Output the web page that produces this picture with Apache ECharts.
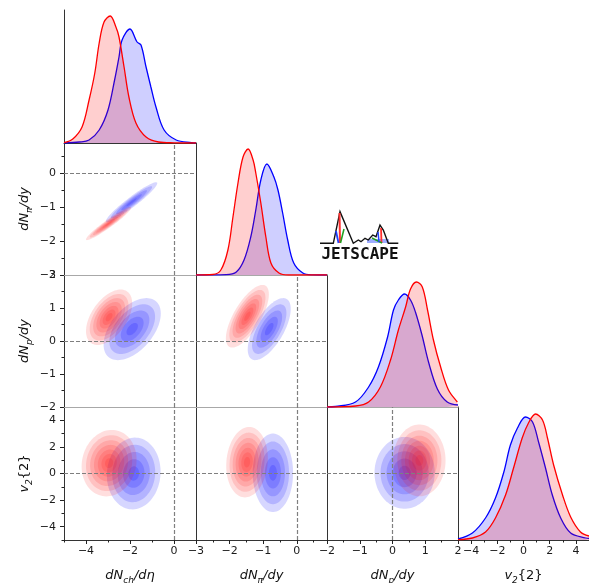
<!DOCTYPE html>
<html><head><meta charset="utf-8">
<script src="https://cdn.jsdelivr.net/npm/echarts@6/dist/echarts.min.js"></script>
<style>html,body{margin:0;padding:0;background:#fff}#c{width:589px;height:583px}</style>
</head><body><div id="c"></div>
<script>
// ---- Marginal (diagonal) KDE curves: [value, density (arbitrary units)] ----
const diagChRed  = [[-5,0.3],[-4.6,4],[-4.18,16],[-3.86,43],[-3.6,70],[-3.4,100],[-3.18,121],[-2.9,127],[-2.64,116],[-2.5,106],[-2.27,76],[-2.05,46],[-1.73,20],[-1.27,6],[-0.7,1],[0,0.2],[1,0]];
const diagChBlue = [[-5,0],[-4.3,1],[-3.86,3],[-3.4,13],[-3.0,33],[-2.7,63],[-2.5,86],[-2.36,103],[-2.0,114],[-1.68,101],[-1.5,98],[-1.27,76],[-1.05,56],[-0.82,36],[-0.45,13],[0.1,3],[0.8,0.3],[1,0]];
const diagPiRed  = [[-3,0],[-2.5,0.5],[-2.26,5],[-2.05,25],[-1.9,58],[-1.75,92],[-1.6,118],[-1.45,126],[-1.3,115],[-1.22,102],[-1.07,72],[-0.92,38],[-0.77,12],[-0.53,2],[-0.25,0],[0.9,0]];
const diagPiBlue = [[-3,0],[-2.1,0.3],[-1.8,3],[-1.57,15],[-1.37,38],[-1.22,65],[-1.07,95],[-0.89,111],[-0.68,98],[-0.56,85],[-0.42,62],[-0.27,35],[-0.09,12],[0.18,2],[0.45,0.2],[0.9,0]];
const diagPRed   = [[-2,0],[-1.13,1],[-0.73,5],[-0.37,20],[-0.06,47],[0.18,77],[0.4,100],[0.55,118],[0.73,125],[0.91,120],[1.07,97],[1.25,67],[1.47,40],[1.71,17],[1.98,5],[2,4.8]];
const diagPBlue  = [[-2,0],[-1.74,0.5],[-1.13,5],[-0.73,20],[-0.43,40],[-0.15,70],[0.03,97],[0.18,107],[0.37,113],[0.55,107],[0.7,95],[0.9,72],[1.1,45],[1.37,18],[1.67,5],[2,2]];
const diagV2Red  = [[-5,0.3],[-3.9,2],[-2.9,8],[-2.14,22],[-1.37,45],[-0.76,72],[-0.1,102],[0.38,117],[0.92,126],[1.45,120],[1.83,102],[2.3,75],[2.98,45],[3.6,23],[4.35,8],[5,4]];
const diagV2Blue = [[-5,1],[-3.9,7],[-2.9,22],[-2.14,42],[-1.5,68],[-1.0,95],[-0.46,112],[0.15,123],[0.69,118],[1.15,98],[1.68,72],[2.2,45],[2.84,22],[3.6,7],[4.75,2],[5,1.5]];

// ---- 2D contour shapes: [centerX, centerY, halfExtentX, halfExtentY, correlation] ----
const piChRed  = [-2.97,-1.48,1.03,0.49,0.956];
const piChBlue = [-1.93,-0.85,1.17,0.59,0.95];
const pChRed   = [-2.95,0.72,1.05,0.84,0.5];
const pChBlue  = [-1.9,0.36,1.3,0.94,0.5];
const v2ChRed  = [-2.95,0.78,1.25,2.5,0.1];
const v2ChBlue = [-1.83,0.0,1.22,2.7,0.05];
const pPiRed   = [-1.47,0.75,0.64,0.95,0.7];
const pPiBlue  = [-0.82,0.36,0.64,0.94,0.65];
const v2PiRed  = [-1.48,0.85,0.62,2.65,0.1];
const v2PiBlue = [-0.71,0.05,0.6,2.95,0.0];
const v2PRed   = [0.82,0.98,0.8,2.7,0.0];
const v2PBlue  = [0.37,0.05,0.92,2.7,0.0];
const levelsRed  = [1,0.84,0.69,0.55,0.41,0.28,0.15];
const levelsBlue = [1,0.8,0.6,0.4,0.2];

// ---- Axes: ranges and tick values ----
const ranges = [[-5,1],[-3,0.9],[-2,2],[-5,5]];
const majorTicks = [[-4,-2,0],[-3,-2,-1,0],[-2,-1,0,1,2],[-4,-2,0,2,4]];
const minorTicks = [[-5,-3,-1,1],[-2.5,-1.5,-0.5,0.5],[-1.5,-0.5,0.5,1.5],[-5,-3,-1,1,3,5]];
const axisNames = ['{m|dN}{s|ch}{m|/dη}','{m|dN}{s|π}{m|/dy}','{m|dN}{s|p}{m|/dy}','{m|v}{s|2}{2}'];

const diagRed  = [diagChRed, diagPiRed, diagPRed, diagV2Red];
const diagBlue = [diagChBlue, diagPiBlue, diagPBlue, diagV2Blue];
const offDiag = {'1,0':[piChRed,piChBlue],'2,0':[pChRed,pChBlue],'3,0':[v2ChRed,v2ChBlue],
                 '2,1':[pPiRed,pPiBlue],'3,1':[v2PiRed,v2PiBlue],'3,2':[v2PRed,v2PBlue]};

// layout
const colL=[64,196,327,458], colW=[132,131,131,131], rowT=[10,143,275,407], rowH=[133,132,132,133];

const FONT='DejaVu Sans';
const rich = {
  m:{fontFamily:FONT,fontStyle:'italic',fontSize:13,color:'#111',lineHeight:18,verticalAlign:'middle'},
  s:{fontFamily:FONT,fontStyle:'italic',fontSize:9,color:'#111',lineHeight:18,verticalAlign:'bottom'}
};
const fmt = v => String(v).replace('-','\u2212');

const grids=[], xAxes=[], yAxes=[], series=[];
const RED='#ff0000', BLUE='#0000ff';

function ellipseRender(color){
  return function(params, api){
    const cx=api.value(0), cy=api.value(1), ax=api.value(2), ay=api.value(3), rho=api.value(4);
    const q=Math.sqrt(Math.max(0,1-rho*rho));
    const pts=[];
    for(let k=0;k<90;k++){
      const t=2*Math.PI*k/90;
      pts.push(api.coord([cx+ax*Math.cos(t), cy+ay*(rho*Math.cos(t)+q*Math.sin(t))]));
    }
    return {type:'polygon', shape:{points:pts}, style:{fill:color}};
  };
}

for(let r=0;r<4;r++){
  for(let c=0;c<=r;c++){
    const g=grids.length;
    grids.push({left:colL[c], top:rowT[r], width:colW[c], height:rowH[r], show:false,
      containLabel:false, outerBoundsMode:'none'});
    const bottomColor = (r===1||r===2) ? '#a8a8a8' : '#333';
    const xi=xAxes.length;
    xAxes.push({gridIndex:g, type:'value', min:ranges[c][0], max:ranges[c][1], position:'bottom',
      axisLine:{show:true, onZero:false, lineStyle:{color:bottomColor, width:1}},
      splitLine:{show:false},
      axisTick:{show:r===3, customValues:majorTicks[c], length:4, lineStyle:{color:'#222'}},
      axisLabel:{show:r===3, customValues:majorTicks[c], formatter:fmt, margin:6,
        fontFamily:FONT, fontSize:11, color:'#1a1a1a'},
      name: r===3 ? axisNames[c] : '', nameLocation:'middle', nameGap:27,
      nameTextStyle:{fontFamily:FONT, fontSize:13, color:'#111', rich:rich}
    });
    if(r===3){
      xAxes.push({gridIndex:g, type:'value', min:ranges[c][0], max:ranges[c][1], position:'bottom',
        axisLine:{show:false, onZero:false}, splitLine:{show:false},
        axisTick:{show:true, customValues:minorTicks[c], length:2.5, lineStyle:{color:'#222'}},
        axisLabel:{show:false}});
    }
    const yi=yAxes.length;
    if(r===c){
      yAxes.push({gridIndex:g, type:'value', min:0, max:rowH[r], position:'left',
        axisLine:{show:true, onZero:false, lineStyle:{color:'#333', width:1}},
        splitLine:{show:false}, axisTick:{show:false}, axisLabel:{show:false}});
      series.push({type:'line', xAxisIndex:xi, yAxisIndex:yi, data:diagBlue[c], smooth:0.35,
        showSymbol:false, symbol:'none', lineStyle:{color:BLUE, width:1.3},
        areaStyle:{color:'rgba(0,0,255,0.27)'}, z:2, silent:true});
      series.push({type:'line', xAxisIndex:xi, yAxisIndex:yi, data:diagRed[c], smooth:0.35,
        showSymbol:false, symbol:'none', lineStyle:{color:RED, width:1.3},
        areaStyle:{color:'rgba(255,0,0,0.27)'}, z:3, silent:true});
    } else {
      yAxes.push({gridIndex:g, type:'value', min:ranges[r][0], max:ranges[r][1], position:'left',
        axisLine:{show:true, onZero:false, lineStyle:{color:'#333', width:1}},
        splitLine:{show:false},
        axisTick:{show:c===0, customValues:majorTicks[r], length:4, lineStyle:{color:'#222'}},
        axisLabel:{show:c===0, customValues:majorTicks[r], formatter:fmt, margin:8,
          fontFamily:FONT, fontSize:11, color:'#1a1a1a'},
        name: c===0 ? axisNames[r] : '', nameLocation:'middle', nameGap:30,
        nameTextStyle:{fontFamily:FONT, fontSize:13, color:'#111', rich:rich}
      });
      if(c===0){
        yAxes.push({gridIndex:g, type:'value', min:ranges[r][0], max:ranges[r][1], position:'left',
          axisLine:{show:false, onZero:false}, splitLine:{show:false},
          axisTick:{show:true, customValues:minorTicks[r], length:2.5, lineStyle:{color:'#222'}},
          axisLabel:{show:false}});
      }
      const [red, blue] = offDiag[r+','+c];
      series.push({type:'custom', xAxisIndex:xi, yAxisIndex:yi, clip:true, silent:true, z:2,
        renderItem:ellipseRender('rgba(0,0,255,0.16)'), encode:{x:0,y:1},
        data:levelsBlue.map(s=>[blue[0],blue[1],blue[2]*s,blue[3]*s,blue[4]])});
      series.push({type:'custom', xAxisIndex:xi, yAxisIndex:yi, clip:true, silent:true, z:3,
        renderItem:ellipseRender('rgba(255,0,0,0.13)'), encode:{x:0,y:1},
        data:levelsRed.map(s=>[red[0],red[1],red[2]*s,red[3]*s,red[4]])});
      series.push({type:'line', xAxisIndex:xi, yAxisIndex:yi, data:[[0,0]], showSymbol:false,
        symbol:'none', lineStyle:{opacity:0}, z:5, silent:true,
        markLine:{silent:true, symbol:['none','none'], animation:false, label:{show:false},
          lineStyle:{color:'#7f7f7f', type:[4,2], width:1.2},
          data:[{xAxis:0},{yAxis:0}]}});
    }
  }
}

// JETSCAPE logo (decoration)
const logo = [
  {type:'polyline', shape:{points:[[320,243.3],[333.3,243.3],[340,211.7],[353.3,243.3],[358.3,240],[361,241.7],[365,238.3],[368.3,240],[372.7,235],[376,236.7],[380,225],[383.3,230],[388.3,243.3],[398.3,243.3]]},
    style:{stroke:'#111', lineWidth:1.4, fill:null}, z:10},
  {type:'rect', shape:{x:367,y:239,width:22,height:4}, style:{fill:'rgba(60,90,255,0.5)'}, z:9},
  {type:'line', shape:{x1:339.5,y1:213,x2:340,y2:243}, style:{stroke:'#ff3030', lineWidth:2}, z:11},
  {type:'line', shape:{x1:336,y1:231,x2:338.5,y2:243}, style:{stroke:'#2040ff', lineWidth:1.8}, z:11},
  {type:'line', shape:{x1:340.5,y1:243,x2:344,y2:229}, style:{stroke:'#20a020', lineWidth:1.6}, z:11},
  {type:'line', shape:{x1:381,y1:228,x2:381.5,y2:243}, style:{stroke:'#ff3030', lineWidth:1.8}, z:11},
  {type:'line', shape:{x1:372,y1:238,x2:382,y2:243}, style:{stroke:'#20a020', lineWidth:1.5}, z:11},
  {type:'line', shape:{x1:378,y1:232,x2:379,y2:242}, style:{stroke:'#2040ff', lineWidth:1.5}, z:11},
  {type:'text', x:360, y:255, style:{text:'JETSCAPE', font:'bold 16px "DejaVu Sans Mono"', fill:'#111', align:'center', verticalAlign:'middle'}, z:12}
];

const chart = echarts.init(document.getElementById('c'), null, {renderer:'canvas'});
chart.setOption({
  animation:false,
  backgroundColor:'#fff',
  grid:grids, xAxis:xAxes, yAxis:yAxes, series:series,
  graphic:logo
});
</script></body></html>
